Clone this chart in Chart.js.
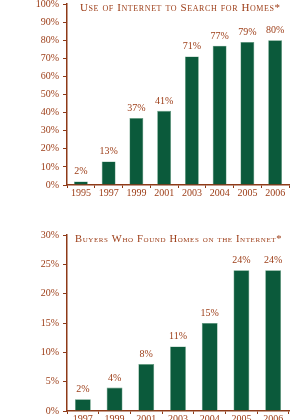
<!DOCTYPE html>
<html>
<head>
<meta charset="utf-8">
<script src="https://cdn.jsdelivr.net/npm/chart.js@4"></script>
<style>
  html, body { margin: 0; padding: 0; background: #fff; }
  body { width: 290px; height: 420px; position: relative; overflow: hidden; }
  .box { position: absolute; left: 0; width: 290px; }
  #box1 { top: -6px; height: 204px; }
  #box2 { top: 225px; height: 199px; }
</style>
</head>
<body>
<div class="box" id="box1"><canvas id="chart1"></canvas></div>
<div class="box" id="box2"><canvas id="chart2"></canvas></div>
<script>
// data
const searchYears = ['1995', '1997', '1999', '2001', '2003', '2004', '2005', '2006'];
const searchValues = [2, 13, 37, 41, 71, 77, 79, 80];
const searchTicks = [0, 10, 20, 30, 40, 50, 60, 70, 80, 90, 100];

const foundYears = ['1997', '1999', '2001', '2003', '2004', '2005', '2006'];
const foundValues = [2, 4, 8, 11, 15, 24, 24];
const foundTicks = [0, 5, 10, 15, 20, 25, 30];

const titles = ['Use of Internet to Search for Homes*', 'Buyers Who Found Homes on the Internet*'];

const rust = '#9c3c16';
const axisColor = '#8e3a18';
const green = '#0b5a3b';
const serif = '"Liberation Serif", "DejaVu Serif", serif';

// value labels above bars + title inside plot
const labelPlugin = {
    id: 'labels',
    afterDatasetsDraw(chart, args, opts) {
        const ctx = chart.ctx;
        const meta = chart.getDatasetMeta(0);
        ctx.save();
        ctx.fillStyle = rust;
        ctx.font = '10px ' + serif;
        ctx.textAlign = 'center';
        ctx.textBaseline = 'alphabetic';
        meta.data.forEach((bar, i) => {
            ctx.fillText(chart.data.datasets[0].data[i] + '%', bar.x, bar.y - 7);
        });
        ctx.font = 'small-caps ' + opts.size + 'px ' + serif;
        ctx.letterSpacing = '0.6px';
        ctx.textAlign = 'left';
        ctx.fillText(opts.text, chart.chartArea.left + opts.dx, chart.chartArea.top + opts.dy);
        ctx.restore();
    }
};

function makeChart(id, labels, values, ticks, max, title, dx, dy, size) {
    const ctx = document.getElementById(id).getContext('2d');
    return new Chart(ctx, {
        type: 'bar',
        data: {
            labels: labels,
            datasets: [{
                data: values,
                backgroundColor: green,
                borderColor: '#5f9a7c',
                borderWidth: 0.6,
                barPercentage: 0.5,
                categoryPercentage: 1
            }]
        },
        options: {
            responsive: true,
            maintainAspectRatio: false,
            animation: false,
            layout: { padding: { top: 4, right: 1, left: 0, bottom: 0 } },
            plugins: {
                legend: { display: false },
                tooltip: { enabled: false },
                labels: { text: title, dx: dx, dy: dy, size: size }
            },
            scales: {
                x: {
                    offset: true,
                    grid: {
                        offset: true,
                        drawOnChartArea: false,
                        color: axisColor,
                        tickLength: 3,
                        tickWidth: 1
                    },
                    border: { color: axisColor, width: 1.5 },
                    ticks: {
                        color: rust,
                        font: { family: serif, size: 10, lineHeight: 1 },
                        padding: 0,
                        maxRotation: 0,
                        autoSkip: false
                    }
                },
                y: {
                    min: 0,
                    max: max,
                    afterBuildTicks: scale => {
                        scale.ticks = ticks.map(v => ({ value: v }));
                    },
                    afterFit: scale => { scale.width = 67; },
                    grid: {
                        drawOnChartArea: false,
                        color: axisColor,
                        tickLength: 4,
                        tickWidth: 1
                    },
                    border: { color: axisColor, width: 1.5 },
                    ticks: {
                        color: rust,
                        font: { family: serif, size: 10 },
                        padding: 4,
                        callback: v => v + '%'
                    }
                }
            }
        },
        plugins: [labelPlugin]
    });
}

makeChart('chart1', searchYears, searchValues, searchTicks, 100, titles[0], 13, 7, 11);
makeChart('chart2', foundYears, foundValues, foundTicks, 30, titles[1], 8, 7, 10.6);
</script>
</body>
</html>
